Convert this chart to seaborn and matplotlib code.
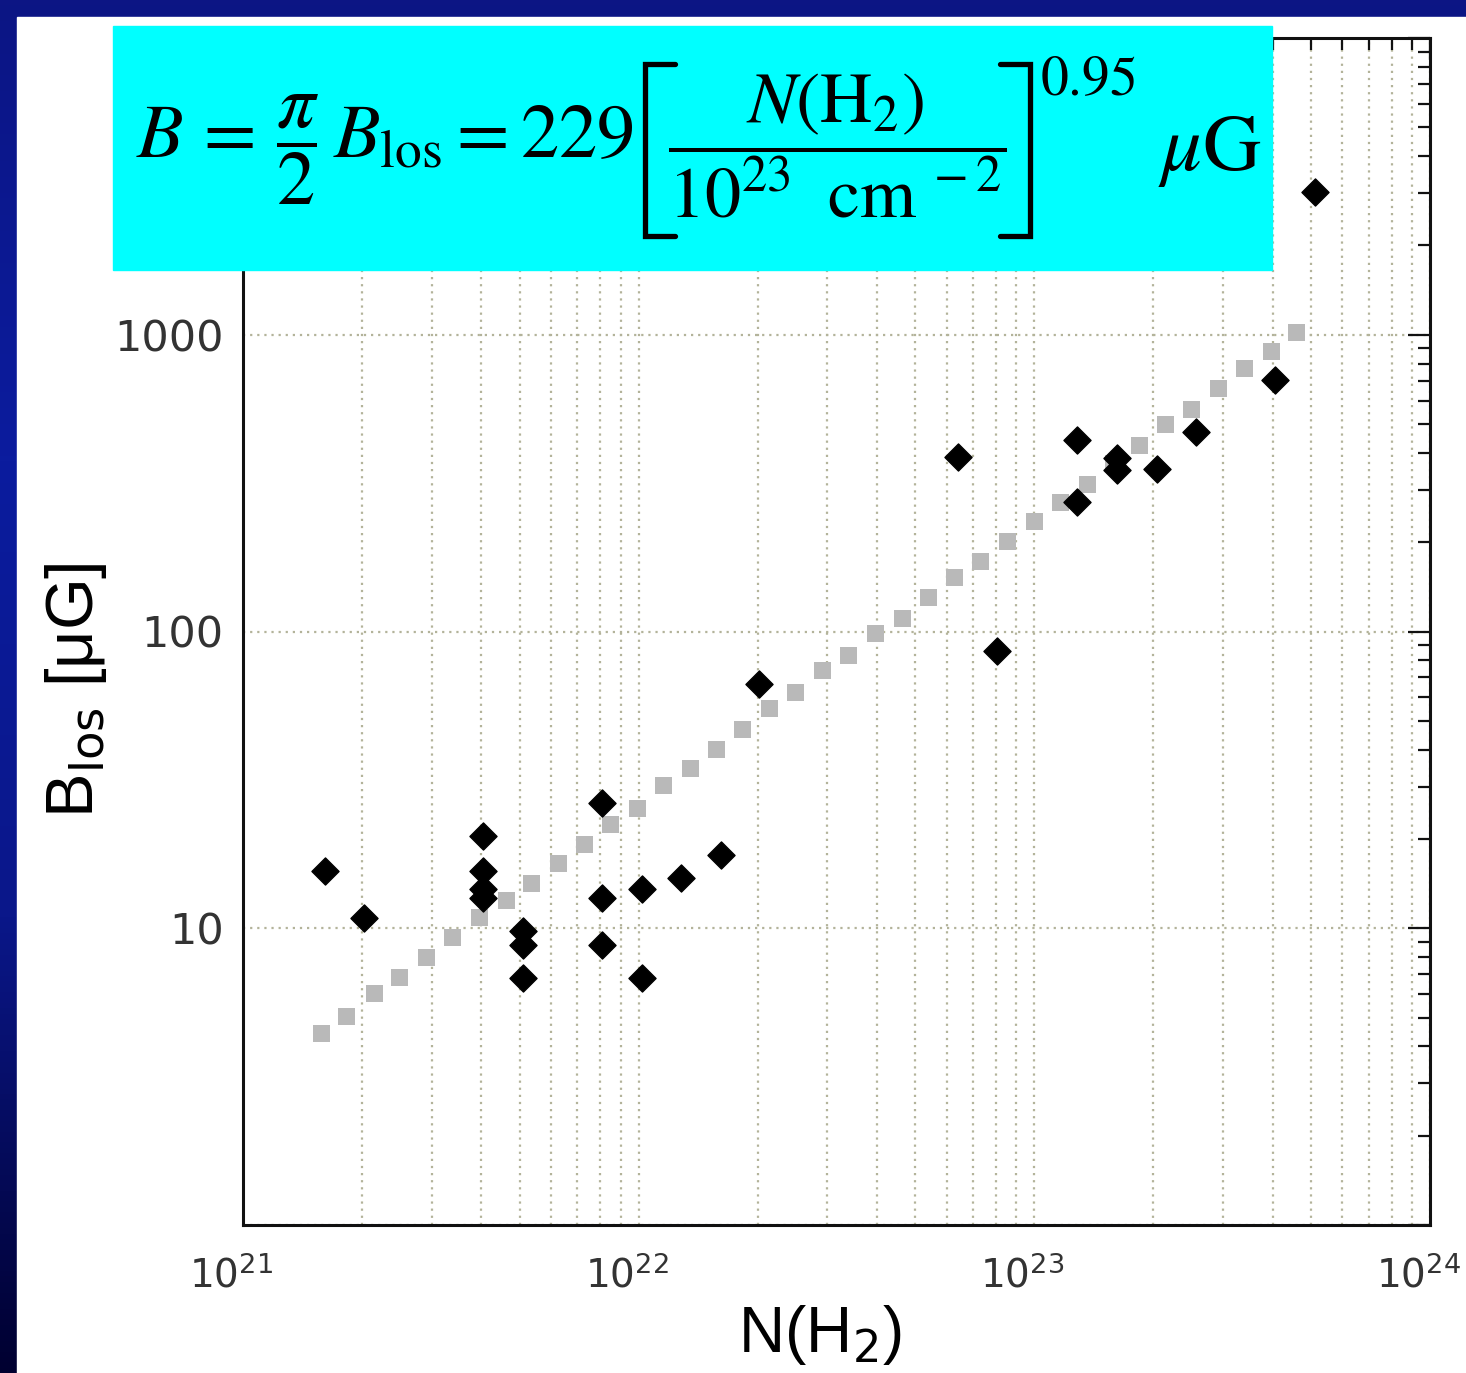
import numpy as np
import pandas as pd
import matplotlib
matplotlib.use("Agg")
import matplotlib.pyplot as plt
import matplotlib.ticker as mticker
import matplotlib.transforms as mtransforms
from matplotlib.patches import Rectangle
from matplotlib.lines import Line2D
from matplotlib.colors import LinearSegmentedColormap
import seaborn as sns

# observed line-of-sight field strengths (black diamonds)
obs_N = [1.61e21, 2.02e21, 4.05e21, 4.05e21, 4.05e21, 4.05e21, 5.09e21, 5.09e21, 5.09e21,
         8.06e21, 8.06e21, 8.06e21, 1.02e22, 1.02e22, 1.28e22, 1.61e22, 2.02e22,
         6.42e22, 8.06e22, 1.28e23, 1.28e23, 1.62e23, 1.62e23, 2.04e23, 2.56e23, 4.05e23, 5.12e23]
obs_B = [15.6, 10.8, 20.5, 15.6, 13.6, 12.6, 9.8, 8.8, 6.8,
         26.4, 12.6, 8.8, 13.6, 6.8, 14.8, 17.7, 66.7,
         387, 86.2, 442, 273, 384, 350, 352, 470, 705, 3020]

# fitted relation (grey squares)
fit_N = [1.58e21, 1.83e21, 2.15e21, 2.48e21, 2.91e21, 3.38e21, 3.96e21, 4.63e21, 5.36e21, 6.27e21,
         7.30e21, 8.50e21, 9.94e21, 1.157e22, 1.354e22, 1.576e22, 1.834e22, 2.146e22, 2.497e22,
         2.923e22, 3.40e22, 3.96e22, 4.63e22, 5.39e22, 6.27e22, 7.30e22, 8.54e22, 1.0e23,
         1.163e23, 1.362e23, 1.585e23, 1.845e23, 2.146e23, 2.497e23, 2.923e23, 3.40e23, 3.98e23, 4.61e23]
fit_B = [4.42, 5.04, 6.03, 6.83, 7.98, 9.32, 10.9, 12.4, 14.1, 16.5,
         19.2, 22.3, 25.4, 30.2, 34.5, 39.9, 46.7, 54.9, 62.2,
         73.8, 83.0, 98.5, 111, 130, 152, 172, 201, 234,
         273, 314, 367, 425, 497, 562, 657, 767, 877, 1016]

x_ticks = [1e21, 1e22, 1e23, 1e24]
x_tick_labels = [r"$10^{21}$", r"$10^{22}$", r"$10^{23}$", r"$10^{24}$"]
y_ticks = [1, 10, 100, 1000, 10000]
y_tick_labels = ["", "10", "100", "1000", ""]

obs = pd.DataFrame({"N": obs_N, "B": obs_B})
fit = pd.DataFrame({"N": fit_N, "B": fit_B})

sns.set_style("white")
plt.rcParams["font.family"] = ["DejaVu Sans"]

W, H = 1466, 1373
fig = plt.figure(figsize=(W / 100, H / 100), dpi=100)

def fx(px):
    return px / W

def fy(py):
    return (H - py) / H

# dark blue slide frame with a white panel
bg = fig.add_axes([0, 0, 1, 1], zorder=-10)
cmap = LinearSegmentedColormap.from_list("frame", ["#0c1584", "#0b1c9e", "#0a178a", "#000030"])
bg.imshow(np.linspace(0, 1, 256).reshape(-1, 1), aspect="auto", cmap=cmap,
          extent=[0, 1, 0, 1])
bg.add_patch(Rectangle((17 / W, 0), 1, 1 - 17 / H, color="white"))
bg.set_axis_off()

ax = fig.add_axes([fx(243), fy(1225), (1430 - 243) / W, (1225 - 38) / H])
ax.set_xscale("log")
ax.set_yscale("log")

sns.scatterplot(data=fit, x="N", y="B", marker="s", s=150, color="#b9b9b9",
                edgecolor="none", ax=ax, zorder=3)
sns.scatterplot(data=obs, x="N", y="B", marker="D", s=190, color="black",
                edgecolor="black", linewidth=1, ax=ax, zorder=4)

ax.set_xlim(1e21, 1e24)
ax.set_ylim(1, 1e4)

ax.set_xticks(x_ticks, labels=x_tick_labels)
ax.xaxis.set_minor_locator(mticker.LogLocator(base=10, subs=np.arange(2, 10)))
ax.xaxis.set_minor_formatter(mticker.NullFormatter())
ax.set_yticks(y_ticks, labels=y_tick_labels)
ax.yaxis.set_minor_locator(mticker.LogLocator(base=10, subs=np.arange(2, 10)))
ax.yaxis.set_minor_formatter(mticker.NullFormatter())

ax.tick_params(which="both", direction="in", top=True, right=True, colors="#111111",
               labelcolor="#333333")
ax.tick_params(which="major", length=16, width=1.6, labelsize=31, pad=14)
ax.tick_params(which="minor", length=8.5, width=1.6)
ax.tick_params(axis="x", which="major", pad=22, labelsize=28)

# x tick labels sit a bit left of their ticks in the original
shift = mtransforms.ScaledTranslation(-12 / 100, 0, fig.dpi_scale_trans)
for lab in ax.get_xticklabels():
    lab.set_transform(lab.get_transform() + shift)

grid_kw = dict(color="#b3b39a", linestyle=(0, (1, 2.2)), linewidth=1.6)
ax.grid(True, axis="x", which="both", **grid_kw)
ax.grid(True, axis="y", which="major", **grid_kw)
ax.set_axisbelow(True)

for sp in ax.spines.values():
    sp.set_color("#111111")
    sp.set_linewidth(2.2)
    sp.set_visible(True)

ax.set_xlabel(r"N(H$_2$)", fontsize=46, family="Liberation Sans", color="black")
ax.set_ylabel(r"B$_{\rm los}$ [μG]", fontsize=48, family="Liberation Sans", color="black")
ax.xaxis.set_label_coords((820 - 243) / 1187, -0.066)
ax.yaxis.set_label_coords(-0.113, (1225 - 690) / 1187)

# equation box
fig.patches.append(Rectangle((fx(113), fy(270)), (1272 - 113) / W, 244 / H,
                             transform=fig.transFigure, color="#00ffff", zorder=20))
eq_kw = dict(math_fontfamily="stix", zorder=21, color="black")
fig.text(fx(136), fy(150), r"$B\,=\,\dfrac{\pi}{2}\,B_{\rm los}=229$",
         fontsize=55, ha="left", va="center", **eq_kw)
fig.text(fx(837), fy(146), r"$\dfrac{N({\rm H}_2)}{10^{23}\;\ {\rm cm}^{\;-2}}$",
         fontsize=52, ha="center", va="center", **eq_kw)
fig.text(fx(1040), fy(80), r"$0.95$", fontsize=40, ha="left", va="center", **eq_kw)
fig.text(fx(1262), fy(150), r"$\mu{\rm G}$", fontsize=58, ha="right", va="center", **eq_kw)

# tall square brackets around the fraction
for xs in ([675, 645, 645, 675], [1000, 1030, 1030, 1000]):
    fig.add_artist(Line2D([fx(v) for v in xs], [fy(64), fy(64), fy(236), fy(236)],
                          transform=fig.transFigure, color="black", linewidth=3.8,
                          solid_joinstyle="miter", zorder=21))

fig.savefig("out.png", dpi=100)
